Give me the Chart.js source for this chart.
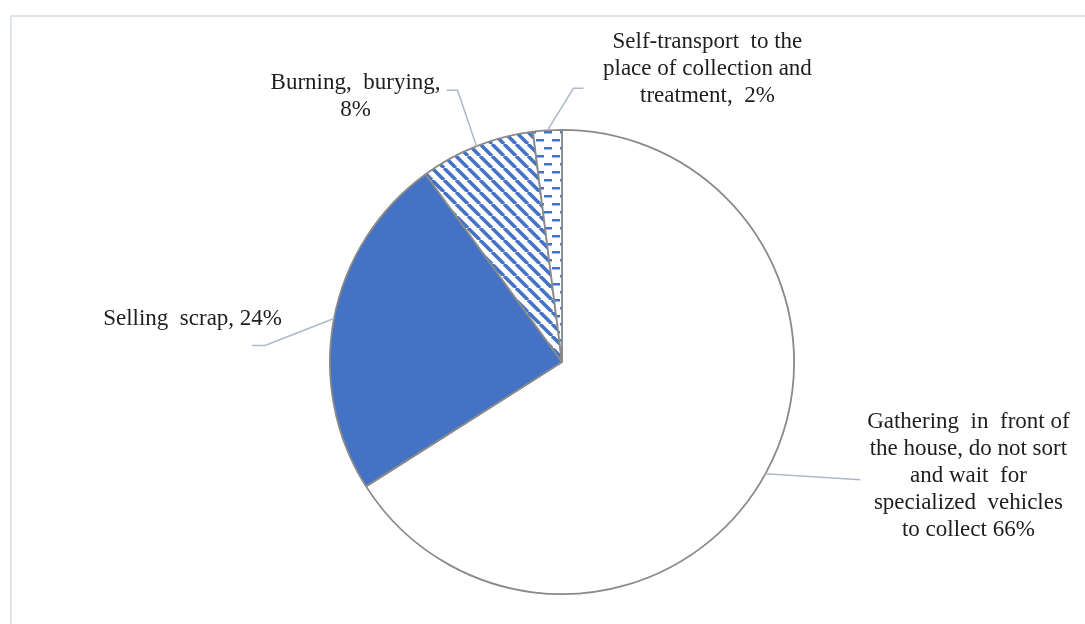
<!DOCTYPE html>
<html>
<head>
<meta charset="utf-8">
<script src="https://cdn.jsdelivr.net/npm/chart.js@4/dist/chart.umd.min.js"></script>
<style>
  html, body { margin: 0; padding: 0; background: #ffffff; }
  #wrap { position: relative; width: 1085px; height: 624px; }
</style>
</head>
<body>
<div id="wrap"><canvas id="wasteChart"></canvas></div>
<script>
// ===========================================
// WASTE HANDLING PIE
// ===========================================

// Categories
const categories = [
    "Gathering in front of the house, do not sort and wait for specialized vehicles to collect",
    "Selling scrap",
    "Burning, burying",
    "Self-transport to the place of collection and treatment"
];

// Shares (%)
const shares = [66, 24, 8, 2];

// Label text, one entry per line ("{v}" becomes the share)
const labelLines = [
    ["Gathering  in  front of", "the house, do not sort", "and wait  for", "specialized  vehicles", "to collect {v}%"],
    ["Selling  scrap, {v}%"],
    ["Burning,  burying,", "{v}%"],
    ["Self-transport  to the", "place of collection and", "treatment,  {v}%"]
];

// Leader line bends and text offsets, measured from the slice edge
const labelLayout = [
    { line: [[95, 6]], text: [203, -52], align: "center" },
    { line: [[-69, 27], [-82, 27]], text: [-52, 0], align: "right" },
    { line: [[-19, -56], [-30, -56]], text: [-121, -63], align: "center" },
    { line: [[26, -42], [36, -42]], text: [160, -88], align: "center" }
];

// Colours
const BLUE = "#4472c4";
const EDGE = "#8a8a8a";
const LEADER = "#adb9ca";
const FRAME = "#dfe4ea";

const FONT = "23px 'Liberation Serif', 'Times New Roman', serif";
const LINE_HEIGHT = 27;

// ===========================================
// FILL PATTERNS
// ===========================================

// wide diagonal stripes
function hatchPattern(){

    const size = 12;
    const c = document.createElement("canvas");
    c.width = size;
    c.height = size;
    const g = c.getContext("2d");

    g.fillStyle = "#ffffff";
    g.fillRect(0, 0, size, size);

    g.strokeStyle = BLUE;
    g.lineWidth = 3.6;
    g.beginPath();
    [-size, 0, size].forEach(k => {
        g.moveTo(k, 0);
        g.lineTo(k + size, size);
    });
    g.stroke();

    return g.createPattern(c, "repeat");
}

// staggered horizontal dashes
function dashPattern(){

    const w = 16, h = 16;
    const c = document.createElement("canvas");
    c.width = w;
    c.height = h;
    const g = c.getContext("2d");

    g.fillStyle = "#ffffff";
    g.fillRect(0, 0, w, h);

    g.fillStyle = BLUE;
    g.fillRect(0, 3, 8, 2.5);
    g.fillRect(8, 11, 8, 2.5);

    return g.createPattern(c, "repeat");
}

// ===========================================
// FRAME
// ===========================================

const framePlugin = {
    id: "frame",
    beforeDraw(chart){
        const ctx = chart.ctx;
        ctx.save();
        ctx.strokeStyle = FRAME;
        ctx.lineWidth = 2;
        ctx.beginPath();
        ctx.moveTo(11, chart.height);
        ctx.lineTo(11, 16);
        ctx.lineTo(chart.width, 16);
        ctx.stroke();
        ctx.restore();
    }
};

// ===========================================
// LABELS WITH LEADER LINES
// ===========================================

const leaderLabels = {
    id: "leaderLabels",
    afterDatasetsDraw(chart){

        const ctx = chart.ctx;
        const meta = chart.getDatasetMeta(0);

        meta.data.forEach((arc, i) => {

            const p = arc.getProps(["x", "y", "startAngle", "endAngle", "outerRadius"], true);
            const mid = (p.startAngle + p.endAngle) / 2;
            const ax = p.x + Math.cos(mid) * p.outerRadius;
            const ay = p.y + Math.sin(mid) * p.outerRadius;
            const lay = labelLayout[i];

            ctx.save();

            ctx.strokeStyle = LEADER;
            ctx.lineWidth = 1.5;
            ctx.beginPath();
            ctx.moveTo(ax, ay);
            lay.line.forEach(pt => ctx.lineTo(ax + pt[0], ay + pt[1]));
            ctx.stroke();

            ctx.font = FONT;
            ctx.fillStyle = "#1e1e1e";
            ctx.textAlign = lay.align;
            ctx.textBaseline = "middle";

            labelLines[i].forEach((line, k) => {
                const txt = line.replace("{v}", shares[i]);
                ctx.fillText(txt, ax + lay.text[0], ay + lay.text[1] + k * LINE_HEIGHT);
            });

            ctx.restore();
        });
    }
};

// ===========================================
// CHART
// ===========================================

const wasteChart = new Chart(
document.getElementById("wasteChart"),
{

type:"pie",

data:{
    labels:categories,
    datasets:[{
        data:shares,
        backgroundColor:["#ffffff", BLUE, hatchPattern(), dashPattern()],
        borderColor:EDGE,
        borderWidth:1.8
    }]
},

options:{
    responsive:true,
    maintainAspectRatio:false,
    animation:false,
    layout:{
        padding:{ left:329, top:129, right:290, bottom:29 }
    },
    plugins:{
        legend:{ display:false },
        tooltip:{ enabled:false }
    }
},

plugins:[framePlugin, leaderLabels]

});
</script>
</body>
</html>
